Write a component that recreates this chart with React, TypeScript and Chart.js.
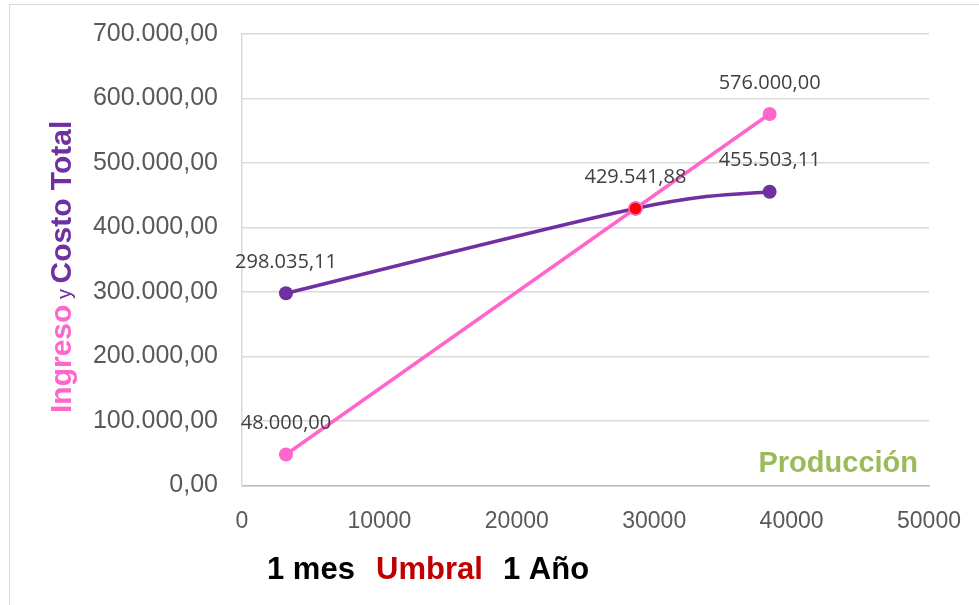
import React, { useEffect, useRef } from "react";
import { Chart, registerables } from "chart.js";

Chart.register(...registerables);

const produccion = [3200, 28636.13, 38400];
const ingreso = [48000, 429541.88, 576000];
const costoTotal = [298035.11, 429541.88, 455503.11];
const umbralX = [28636.13];
const umbralY = [429541.88];
const yTicks = [0, 100000, 200000, 300000, 400000, 500000, 600000, 700000];
const xTicks = [0, 10000, 20000, 30000, 40000, 50000];
const bottomLabels = ["1 mes", "Umbral", "1 Año"];

const PINK = "#ff66cc";
const PURPLE = "#7030a0";
const RED = "#ff0000";

function fmt(n: number): string {
  const [i, d] = n.toFixed(2).split(".");
  return i.replace(/\B(?=(\d{3})+(?!\d))/g, ".") + "," + d;
}

// Excel-like smoothing (Catmull-Rom control points) for the smoothed series
const smoothPlugin = {
  id: "excelSmooth",
  beforeDatasetDraw(chart: any, args: any) {
    const meta = chart.getDatasetMeta(args.index);
    if (!meta.dataset || !meta.dataset.options || !meta.dataset.options.tension) return;
    const line = meta.dataset;
    line.updateControlPoints(chart.chartArea, "x");
    const pts = meta.data;
    const n = pts.length;
    for (let i = 0; i < n; i++) {
      const p = pts[i];
      const prev = pts[Math.max(i - 1, 0)];
      const next = pts[Math.min(i + 1, n - 1)];
      const dx = (next.x - prev.x) / 6;
      const dy = (next.y - prev.y) / 6;
      p.cp1x = p.x - dx;
      p.cp1y = p.y - dy;
      p.cp2x = p.x + dx;
      p.cp2y = p.y + dy;
    }
    line._pointsUpdated = true;
    line._path = undefined;
  },
};

const decorPlugin = {
  id: "decor",
  afterDatasetsDraw(chart: any) {
    const ctx = chart.ctx as CanvasRenderingContext2D;
    const xs = chart.scales.x;
    const ys = chart.scales.y;
    ctx.save();
    // data labels
    ctx.font = '20px "Open Sans"';
    ctx.fillStyle = "#404040";
    ctx.textAlign = "center";
    ctx.textBaseline = "middle";
    const lab = (x: number, y: number) => {
      ctx.fillText(fmt(y), xs.getPixelForValue(x), ys.getPixelForValue(y) - 31);
    };
    lab(produccion[0], costoTotal[0]);
    lab(produccion[2], costoTotal[2]);
    lab(produccion[0], ingreso[0]);
    lab(produccion[2], ingreso[2]);
    lab(umbralX[0], umbralY[0]);

    // Producción label
    ctx.font = 'bold 29px "Liberation Sans"';
    ctx.fillStyle = "#9bbb59";
    ctx.textAlign = "right";
    ctx.textBaseline = "alphabetic";
    ctx.fillText("Producción", chart.chartArea.right - 11, 472);

    // y axis title
    ctx.save();
    ctx.translate(71, 413);
    ctx.rotate(-Math.PI / 2);
    ctx.textAlign = "left";
    ctx.textBaseline = "alphabetic";
    let px = 0;
    ctx.font = 'bold 30px "Liberation Sans"';
    ctx.fillStyle = PINK;
    ctx.fillText("Ingreso", px, 0);
    px += ctx.measureText("Ingreso").width;
    ctx.font = '20px "Liberation Sans"';
    ctx.fillStyle = PURPLE;
    ctx.fillText(" y ", px, 0);
    px += ctx.measureText(" y ").width;
    ctx.font = 'bold 30px "Liberation Sans"';
    ctx.fillText("Costo Total", px, 0);
    ctx.restore();

    // bottom labels
    ctx.font = 'bold 31px "Liberation Sans"';
    ctx.textAlign = "left";
    ctx.textBaseline = "alphabetic";
    const bx = [267, 376, 503];
    const bc = ["#000000", "#c00000", "#000000"];
    bottomLabels.forEach((t, i) => {
      ctx.fillStyle = bc[i];
      ctx.fillText(t, bx[i], 579);
    });
    ctx.restore();
  },
};

export default function App() {
  const ref = useRef<HTMLCanvasElement | null>(null);
  useEffect(() => {
    if (!ref.current) return;
    const chart = new Chart(ref.current, {
      type: "scatter",
      data: {
        datasets: [
          {
            label: "Umbral",
            data: umbralX.map((x, i) => ({ x, y: umbralY[i] })),
            backgroundColor: RED,
            borderColor: PINK,
            borderWidth: 1.5,
            pointRadius: 6.5,
            showLine: false,
          },
          {
            label: "Ingreso",
            data: produccion.map((x, i) => ({ x, y: ingreso[i] })),
            backgroundColor: PINK,
            borderColor: PINK,
            borderWidth: 3.5,
            pointRadius: 7,
            pointBorderWidth: 0,
            showLine: true,
            tension: 0,
          },
          {
            label: "Costo Total",
            data: produccion.map((x, i) => ({ x, y: costoTotal[i] })),
            backgroundColor: PURPLE,
            borderColor: PURPLE,
            borderWidth: 3.5,
            pointRadius: 7,
            pointBorderWidth: 0,
            showLine: true,
            tension: 0.4,
          },
        ],
      },
      options: {
        responsive: false,
        animation: false,
        layout: { padding: { top: 34, right: 50, left: 0, bottom: 0 } },
        plugins: {
          legend: { display: false },
          tooltip: { enabled: false },
        },
        scales: {
          x: {
            type: "linear",
            min: 0,
            max: 50000,
            afterBuildTicks: (s: any) => {
              s.ticks = xTicks.map((v) => ({ value: v }));
            },
            afterFit: (s: any) => {
              s.height = 119.5;
            },
            grid: { display: false, drawTicks: true, tickLength: 22 },
            border: { display: true, color: "#bfbfbf", width: 1.5 },
            ticks: {
              padding: 0,
              color: "#595959",
              font: { family: "Liberation Sans", size: 23 },
              callback: (v: any) => String(v),
              maxRotation: 0,
            },
          },
          y: {
            min: 0,
            max: 700000,
            afterBuildTicks: (s: any) => {
              s.ticks = yTicks.map((v) => ({ value: v }));
            },
            afterFit: (s: any) => {
              s.width = 242;
            },
            grid: {
              color: "#d9d9d9",
              lineWidth: 1.5,
              drawTicks: true,
              tickLength: 24,
              tickColor: "rgba(0,0,0,0)",
            },
            border: { display: true, color: "#d9d9d9", width: 1.5 },
            ticks: {
              padding: 0,
              color: "#595959",
              font: { family: "Liberation Sans", size: 25 },
              callback: (v: any) => fmt(Number(v)),
            },
          },
        },
      },
      plugins: [smoothPlugin, decorPlugin],
    } as any);
    return () => chart.destroy();
  }, []);

  return (
    <div
      style={{
        position: "fixed",
        left: 0,
        top: 0,
        width: 979,
        height: 605,
        overflow: "hidden",
        background: "#ffffff",
      }}
    >
      <div
        style={{
          position: "absolute",
          left: 9,
          top: 4,
          width: 1100,
          height: 800,
          border: "1.5px solid #d9d9d9",
        }}
      />
      <canvas
        ref={ref}
        width={979}
        height={605}
        style={{ position: "absolute", left: 0, top: 0, width: 979, height: 605 }}
      />
    </div>
  );
}
